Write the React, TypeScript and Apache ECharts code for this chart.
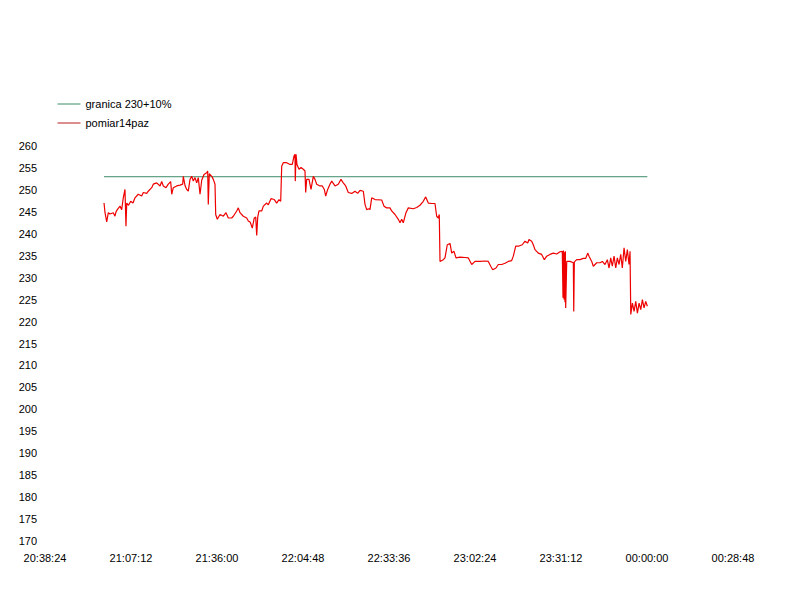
import React, { useEffect, useRef } from "react";
import * as echarts from "echarts";

const xTickLabels = ["20:38:24", "21:07:12", "21:36:00", "22:04:48", "22:33:36", "23:02:24", "23:31:12", "00:00:00", "00:28:48"];
const limitValue = 253;
const limitName = "granica 230+10%";
const measName = "pomiar14paz";

const measTimes = [
  "20:58:10","20:58:30","20:59:04","20:59:36","21:00:10","21:01:16","21:01:50","21:02:11","21:02:37","21:03:31",
  "21:04:05","21:04:37","21:05:11","21:05:31","21:05:46","21:06:22","21:07:06","21:07:52","21:08:32","21:09:38",
  "21:10:47","21:11:19","21:12:28","21:12:59","21:14:08","21:14:40","21:15:49","21:16:55","21:17:29","21:18:01",
  "21:18:55","21:19:41","21:20:29","21:20:50","21:21:22","21:22:30","21:23:37","21:24:31","21:24:43","21:25:17",
  "21:25:51","21:26:23","21:26:58","21:27:32","21:28:04","21:28:38","21:29:12","21:29:44","21:30:19","21:30:53",
  "21:31:39","21:32:33","21:32:53","21:33:05","21:33:25","21:34:14","21:34:46","21:35:20","21:35:34","21:36:06",
  "21:37:00","21:38:07","21:39:01","21:39:47","21:40:55","21:41:28","21:42:36","21:43:08","21:43:42","21:44:49",
  "21:45:57","21:46:29","21:47:09","21:47:49","21:48:29","21:48:58","21:49:18","21:49:38","21:50:04","21:50:58",
  "21:51:31","21:52:38","21:53:11","21:54:05","21:55:11","21:55:59","21:56:46","21:57:20","21:57:40","21:58:12",
  "21:59:20","22:00:27","22:01:13","22:01:47","22:02:07","22:02:13","22:02:28","22:02:47","22:03:28","22:04:08",
  "22:04:54","22:05:28","22:05:42","22:06:02","22:06:49","22:07:29","22:08:15","22:08:49","22:09:23","22:10:29",
  "22:11:16","22:11:56","22:12:24","22:13:04","22:13:50","22:14:25","22:15:31","22:16:37","22:17:31","22:18:17",
  "22:19:06","22:19:58","22:21:07","22:22:13","22:23:07","22:23:53","22:25:00","22:25:34","22:26:08","22:26:54",
  "22:27:14","22:27:49","22:28:55","22:31:09","22:31:55","22:32:50","22:33:56","22:34:30","22:35:37","22:36:43",
  "22:37:17","22:37:51","22:38:23","22:39:17","22:40:04","22:41:44","22:42:52","22:43:59","22:45:05","22:45:53",
  "22:46:46","22:47:54","22:49:00","22:49:34","22:50:07","22:50:26","22:50:41","22:51:47","22:52:21","22:53:07",
  "22:54:02","22:54:36","22:55:22","22:56:02","22:57:23","22:59:03","23:00:10","23:01:18","23:02:24","23:04:05",
  "23:05:45","23:06:52","23:07:40","23:08:20","23:09:26","23:10:12","23:11:20","23:12:27","23:13:33","23:14:41",
  "23:15:14","23:16:02","23:17:08","23:18:14","23:19:08","23:20:03","23:20:29","23:21:23","23:21:55","23:22:29",
  "23:23:36","23:24:44","23:25:37","23:26:25","23:27:31","23:28:37","23:29:46","23:30:52","23:31:38","23:31:52",
  "23:32:02","23:32:12","23:32:22","23:32:32","23:32:40","23:32:46","23:33:07","23:34:13","23:35:20","23:35:28",
  "23:35:40","23:36:28","23:37:34","23:38:40","23:39:29","23:40:09","23:40:35","23:41:29","23:42:01","23:43:10",
  "23:44:16","23:45:02","23:45:56","23:46:43","23:47:17","23:47:51","23:48:23","23:48:58","23:49:32","23:50:04",
  "23:50:38","23:51:12","23:51:44","23:52:19","23:52:53","23:53:25","23:53:59","23:54:19","23:54:34","23:55:06",
  "23:55:40","23:56:14","23:56:47","23:57:21","23:57:55","23:58:27","23:59:01","23:59:35","00:00:07"
];

const measValues = [
  247.0,244.8,242.7,244.8,244.5,244.8,244.0,245.0,245.5,246.3,
  245.5,248.2,250.1,241.7,247.0,246.5,247.4,247.0,248.2,249.0,
  248.6,249.4,249.2,249.7,250.5,251.3,251.6,250.9,251.9,250.9,
  250.5,251.3,251.9,249.0,250.5,250.9,251.1,251.3,253.1,251.0,
  250.1,249.7,252.4,253.1,252.0,252.8,251.6,252.8,249.0,252.2,
  253.5,253.9,254.3,246.7,253.7,253.1,252.4,251.3,244.4,243.3,
  244.4,244.0,244.8,243.6,243.6,244.0,245.2,245.9,244.8,244.0,
  243.6,242.9,242.6,241.3,243.6,243.8,239.6,243.8,245.2,245.2,
  246.3,247.0,246.6,248.0,247.8,247.0,247.8,247.4,255.4,256.2,
  256.2,255.8,255.8,257.7,258.1,252.0,258.1,255.8,254.7,255.1,
  254.7,254.3,249.4,252.4,252.4,250.1,253.1,252.4,251.3,250.9,
  250.9,250.1,248.6,250.1,251.3,252.0,250.9,251.3,252.4,251.6,
  250.9,249.4,249.2,249.7,249.2,249.9,249.7,246.7,245.5,245.7,
  245.5,248.2,247.8,247.7,246.3,245.9,245.9,245.2,244.4,243.3,
  242.5,243.3,242.5,244.8,245.9,245.7,246.0,246.5,247.4,248.4,
  247.0,246.9,246.9,244.0,243.6,244.4,233.7,234.1,234.5,237.5,
  237.8,235.6,236.0,234.5,234.7,234.6,234.5,233.0,233.7,233.7,
  233.8,233.7,232.6,231.8,232.2,233.0,233.0,233.3,233.7,233.9,
  234.9,237.2,237.2,237.5,238.3,237.9,238.7,238.3,237.5,236.4,
  235.6,235.3,234.1,234.9,235.3,235.6,235.4,235.9,236.0,225.4,
  236.2,225.0,235.8,224.4,236.0,223.1,233.7,233.7,233.4,222.3,
  233.6,234.1,234.1,234.4,234.4,235.6,234.9,233.7,232.6,233.4,
  233.4,233.7,233.0,234.1,232.2,234.5,232.6,234.9,232.2,234.5,
  233.0,235.3,232.2,236.8,233.7,236.4,233.0,236.0,221.6,224.2,
  222.3,224.6,221.9,224.2,222.7,225.0,223.1,224.6,223.5
];

const AXIS_START = 20 * 3600 + 38 * 60 + 24;
const toOffset = (t: string) => {
  const [h, m, s] = t.split(":").map(Number);
  let sec = h * 3600 + m * 60 + s;
  if (h < 12) sec += 86400;
  return sec - AXIS_START;
};

const FONT = "'Liberation Sans', Arial, sans-serif";

export default function App() {
  const ref = useRef<HTMLDivElement>(null);
  useEffect(() => {
    if (!ref.current) return;
    const chart = echarts.init(ref.current, undefined, { renderer: "svg" });
    const measData = measTimes.map((t, i) => [toOffset(t), measValues[i]]);
    const limitData = [
      [toOffset(measTimes[0]), limitValue],
      [toOffset(measTimes[measTimes.length - 1]), limitValue],
    ];
    const step = 1728;
    chart.setOption({
      animation: false,
      backgroundColor: "#ffffff",
      textStyle: { fontFamily: FONT },
      legend: {
        orient: "vertical",
        left: 57,
        top: 97,
        padding: 0,
        itemWidth: 23,
        itemHeight: 14,
        itemGap: 5,
        itemStyle: { opacity: 0 },
        lineStyle: { width: 1 },
        textStyle: { fontSize: 11, color: "#000", fontFamily: FONT, lineHeight: 14 },
        data: [
          { name: limitName },
          { name: measName, lineStyle: { color: "#b81c1c", width: 1 } },
        ],
      },
      grid: { left: 45, right: 67, top: 146, bottom: 59 },
      xAxis: {
        type: "value",
        min: 0,
        max: step * (xTickLabels.length - 1),
        interval: step,
        axisLine: { show: false },
        axisTick: { show: false },
        splitLine: { show: false },
        axisLabel: {
          margin: 11,
          fontSize: 11,
          color: "#000",
          fontFamily: FONT,
          showMinLabel: true,
          showMaxLabel: true,
          formatter: (v: number) => xTickLabels[Math.round(v / step)] ?? "",
        },
      },
      yAxis: {
        type: "value",
        min: 170,
        max: 260,
        interval: 5,
        axisLine: { show: false },
        axisTick: { show: false },
        splitLine: { show: false },
        axisLabel: { margin: 8, fontSize: 11, color: "#000", fontFamily: FONT },
      },
      series: [
        {
          name: limitName,
          type: "line",
          data: limitData,
          symbol: "none",
          lineStyle: { width: 1, color: "#3c8c68" },
          itemStyle: { color: "#3c8c68" },
        },
        {
          name: measName,
          type: "line",
          data: measData,
          symbol: "none",
          lineStyle: { width: 1.2, color: "#ee0000" },
          itemStyle: { color: "#ee0000" },
        },
      ],
    });
    return () => chart.dispose();
  }, []);
  return (
    <div
      ref={ref}
      style={{ position: "fixed", left: 0, top: 0, width: 800, height: 600 }}
    />
  );
}
